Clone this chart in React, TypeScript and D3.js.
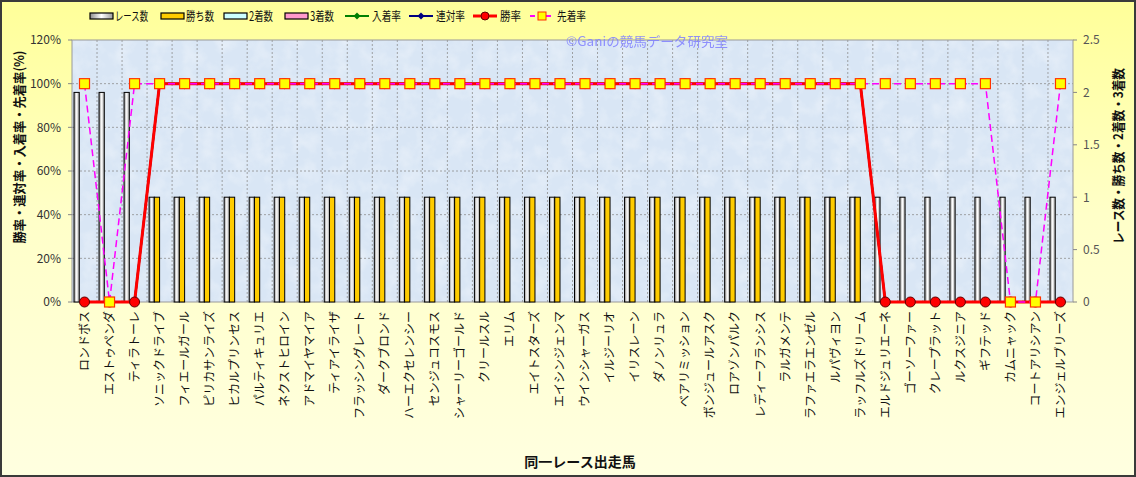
import React, {useEffect, useRef} from 'react';
import * as d3 from 'd3';

const horses = [
    'ロンドボス', 'エストゥペンダ', 'ティラトーレ', 'ソニックドライブ', 'フィエールガール',
    'ピリカサンライズ', 'ヒカルプリンセス', 'パルティキュリエ', 'ネクストヒロイン', 'アドマイヤマイア',
    'ティアイライザ', 'フラッシングレート', 'ダークブロンド', 'ハーエクセレンシー', 'センジュコスモス',
    'シャーリーゴールド', 'クリールスル', 'エリム', 'エイトスターズ', 'エイシンジェンマ',
    'ウインシャーガス', 'イルジーリオ', 'イリスレーン', 'ダノンリュラ', 'ベアリミッション',
    'ボンジュールアスク', 'ロアゾンパルク', 'レディーフランシス', 'ラルガメンテ', 'ラファエラエンゼル',
    'ルパヴィヨン', 'ラッフルズドリーム', 'エルドジュリエーネ', 'ゴーソーファー', 'クレープラット',
    'ルクスジニア', 'ギフテッド', 'カムニャック', 'コートアリシアン', 'エンジェルブリーズ',
];

// counts (right axis)
const raceCounts = [2, 2, 2, 1, 1, 1, 1, 1, 1, 1, 1, 1, 1, 1, 1, 1, 1, 1, 1, 1, 1, 1, 1, 1, 1, 1, 1, 1, 1, 1, 1, 1, 1, 1, 1, 1, 1, 1, 1, 1];
const winCounts = [0, 0, 0, 1, 1, 1, 1, 1, 1, 1, 1, 1, 1, 1, 1, 1, 1, 1, 1, 1, 1, 1, 1, 1, 1, 1, 1, 1, 1, 1, 1, 1, 0, 0, 0, 0, 0, 0, 0, 0];
const secondCounts = [0, 0, 0, 0, 0, 0, 0, 0, 0, 0, 0, 0, 0, 0, 0, 0, 0, 0, 0, 0, 0, 0, 0, 0, 0, 0, 0, 0, 0, 0, 0, 0, 0, 0, 0, 0, 0, 0, 0, 0];
const thirdCounts = [0, 0, 0, 0, 0, 0, 0, 0, 0, 0, 0, 0, 0, 0, 0, 0, 0, 0, 0, 0, 0, 0, 0, 0, 0, 0, 0, 0, 0, 0, 0, 0, 0, 0, 0, 0, 0, 0, 0, 0];

// rates in % (left axis)
const placeRate = [0, 0, 0, 100, 100, 100, 100, 100, 100, 100, 100, 100, 100, 100, 100, 100, 100, 100, 100, 100, 100, 100, 100, 100, 100, 100, 100, 100, 100, 100, 100, 100, 0, 0, 0, 0, 0, 0, 0, 0];
const rentaiRate = [0, 0, 0, 100, 100, 100, 100, 100, 100, 100, 100, 100, 100, 100, 100, 100, 100, 100, 100, 100, 100, 100, 100, 100, 100, 100, 100, 100, 100, 100, 100, 100, 0, 0, 0, 0, 0, 0, 0, 0];
const winRate = [0, 0, 0, 100, 100, 100, 100, 100, 100, 100, 100, 100, 100, 100, 100, 100, 100, 100, 100, 100, 100, 100, 100, 100, 100, 100, 100, 100, 100, 100, 100, 100, 0, 0, 0, 0, 0, 0, 0, 0];
const aheadRate = [100, 0, 100, 100, 100, 100, 100, 100, 100, 100, 100, 100, 100, 100, 100, 100, 100, 100, 100, 100, 100, 100, 100, 100, 100, 100, 100, 100, 100, 100, 100, 100, 100, 100, 100, 100, 100, 0, 0, 100];

const leftTicks = [0, 20, 40, 60, 80, 100, 120];
const rightTicks = [0, 0.5, 1, 1.5, 2, 2.5];

const FONT = '"Noto Sans CJK JP", "Noto Sans", sans-serif';
const W = 1136;
const H = 477;

const App: React.FC = () => {
    const svgRef = useRef<SVGSVGElement | null>(null);

    useEffect(() => {
        document.body.style.margin = '0';
        if (svgRef.current) draw();
    }, []);

    const draw = () => {
        const svg = d3.select(svgRef.current).attr('width', W).attr('height', H);
        svg.selectAll('*').remove();

        const plot = {left: 72, right: 1073, top: 40, bottom: 302};

        const defs = svg.append('defs');
        const bg = defs.append('linearGradient').attr('id', 'bgGrad')
            .attr('x1', '0').attr('y1', '0').attr('x2', '0').attr('y2', '1');
        bg.append('stop').attr('offset', '0%').attr('stop-color', '#FFFF99');
        bg.append('stop').attr('offset', '45%').attr('stop-color', '#FFFFC8');
        bg.append('stop').attr('offset', '100%').attr('stop-color', '#FFFFE0');

        const barGrad = defs.append('linearGradient').attr('id', 'raceGrad')
            .attr('x1', '0').attr('y1', '0').attr('x2', '1').attr('y2', '0');
        barGrad.append('stop').attr('offset', '0%').attr('stop-color', '#8c8c8c');
        barGrad.append('stop').attr('offset', '50%').attr('stop-color', '#ffffff');
        barGrad.append('stop').attr('offset', '100%').attr('stop-color', '#9a9a9a');

        // texture for plot area
        const tex = defs.append('filter').attr('id', 'tex').attr('x', 0).attr('y', 0).attr('width', 1).attr('height', 1);
        tex.append('feTurbulence').attr('type', 'fractalNoise').attr('baseFrequency', 0.06).attr('numOctaves', 3).attr('seed', 4);
        tex.append('feColorMatrix').attr('type', 'matrix')
            .attr('values', '0 0 0 0 1  0 0 0 0 1  0 0 0 0 1  0 0 0 1.1 -0.45');
        tex.append('feComposite').attr('in2', 'SourceGraphic').attr('operator', 'in');

        // background
        svg.append('rect').attr('x', 1).attr('y', 1).attr('width', W - 2).attr('height', H - 2)
            .attr('fill', 'url(#bgGrad)').attr('stroke', '#3a3a3a').attr('stroke-width', 2);

        svg.append('rect').attr('x', plot.left).attr('y', plot.top)
            .attr('width', plot.right - plot.left).attr('height', plot.bottom - plot.top)
            .attr('fill', '#D9E6F5');
        svg.append('rect').attr('x', plot.left).attr('y', plot.top)
            .attr('width', plot.right - plot.left).attr('height', plot.bottom - plot.top)
            .attr('fill', '#D9E6F5').attr('filter', 'url(#tex)').attr('opacity', 0.6);

        const x = d3.scaleBand<string>().domain(horses).range([plot.left, plot.right]).padding(0);
        const seriesKeys = ['race', 'win', 'second', 'third'];
        const x1 = d3.scaleBand<string>().domain(seriesKeys).range([2, x.bandwidth() - 2]).padding(0);
        const yL = d3.scaleLinear().domain([0, 120]).range([plot.bottom, plot.top]);
        const yR = d3.scaleLinear().domain([0, 2.5]).range([plot.bottom, plot.top]);

        // grid
        const grid = svg.append('g').attr('stroke', '#8e8e8e').attr('stroke-width', 0.8)
            .attr('stroke-dasharray', '2,2');
        leftTicks.slice(1, -1).forEach((t) => {
            grid.append('line').attr('x1', plot.left).attr('x2', plot.right)
                .attr('y1', yL(t)).attr('y2', yL(t));
        });
        horses.slice(1).forEach((h) => {
            const gx = x(h) as number;
            grid.append('line').attr('x1', gx).attr('x2', gx).attr('y1', plot.top).attr('y2', plot.bottom);
        });

        // plot frame
        svg.append('rect').attr('x', plot.left).attr('y', plot.top)
            .attr('width', plot.right - plot.left).attr('height', plot.bottom - plot.top)
            .attr('fill', 'none').attr('stroke', '#9a9a9a').attr('stroke-width', 1);

        // bars
        const barSeries = [
            {key: 'race', values: raceCounts, fill: 'url(#raceGrad)'},
            {key: 'win', values: winCounts, fill: '#FFCC00'},
            {key: 'second', values: secondCounts, fill: '#CCFFFF'},
            {key: 'third', values: thirdCounts, fill: '#FF99CC'},
        ];
        const barsG = svg.append('g');
        barSeries.forEach((s) => {
            barsG.selectAll(null)
                .data(horses.map((h, i) => ({h, v: s.values[i]})).filter((d) => d.v > 0))
                .enter().append('rect')
                .attr('x', (d) => (x(d.h) as number) + (x1(s.key) as number))
                .attr('y', (d) => yR(d.v))
                .attr('width', x1.bandwidth())
                .attr('height', (d) => yR(0) - yR(d.v))
                .attr('fill', s.fill)
                .attr('stroke', '#000')
                .attr('stroke-width', 1);
        });

        const cx = (h: string) => (x(h) as number) + x.bandwidth() / 2;
        const lineL = d3.line<{h: string; v: number}>().x((d) => cx(d.h)).y((d) => yL(d.v));
        const toPts = (vals: number[]) => horses.map((h, i) => ({h, v: vals[i]}));

        // 入着率
        svg.append('path').attr('d', lineL(toPts(placeRate)) as string)
            .attr('fill', 'none').attr('stroke', '#008000').attr('stroke-width', 2);
        // 連対率
        svg.append('path').attr('d', lineL(toPts(rentaiRate)) as string)
            .attr('fill', 'none').attr('stroke', '#000080').attr('stroke-width', 2);
        // 勝率
        svg.append('path').attr('d', lineL(toPts(winRate)) as string)
            .attr('fill', 'none').attr('stroke', '#FF0000').attr('stroke-width', 3);
        svg.append('g').selectAll('circle').data(toPts(winRate)).enter().append('circle')
            .attr('cx', (d) => cx(d.h)).attr('cy', (d) => yL(d.v)).attr('r', 5)
            .attr('fill', '#FF0000').attr('stroke', '#600000').attr('stroke-width', 1);
        // 先着率
        svg.append('path').attr('d', lineL(toPts(aheadRate)) as string)
            .attr('fill', 'none').attr('stroke', '#FF00FF').attr('stroke-width', 1.5)
            .attr('stroke-dasharray', '7,4');
        svg.append('g').selectAll('rect').data(toPts(aheadRate)).enter().append('rect')
            .attr('x', (d) => cx(d.h) - 5).attr('y', (d) => yL(d.v) - 5)
            .attr('width', 10).attr('height', 10)
            .attr('fill', '#FFFF00').attr('stroke', '#FF3300').attr('stroke-width', 1.2);

        // left axis
        const axL = svg.append('g').attr('font-family', FONT).attr('font-size', 12).attr('fill', '#333');
        leftTicks.forEach((t) => {
            axL.append('line').attr('x1', plot.left - 4).attr('x2', plot.left)
                .attr('y1', yL(t)).attr('y2', yL(t)).attr('stroke', '#888');
            axL.append('text').attr('x', plot.left - 11).attr('y', yL(t)).attr('dy', '0.36em')
                .attr('text-anchor', 'end').text(`${t}%`);
        });
        // right axis
        const axR = svg.append('g').attr('font-family', FONT).attr('font-size', 12).attr('fill', '#555');
        rightTicks.forEach((t) => {
            axR.append('line').attr('x1', plot.right).attr('x2', plot.right + 4)
                .attr('y1', yR(t)).attr('y2', yR(t)).attr('stroke', '#888');
            axR.append('text').attr('x', plot.right + 10).attr('y', yR(t)).attr('dy', '0.36em')
                .attr('text-anchor', 'start').text(String(t));
        });

        // axis titles
        svg.append('text').attr('transform', 'translate(24,147) rotate(-90)')
            .attr('text-anchor', 'middle').attr('font-family', FONT).attr('font-size', 13)
            .attr('font-weight', 'bold').attr('fill', '#111')
            .attr('textLength', 193).attr('lengthAdjust', 'spacingAndGlyphs')
            .text('勝率・連対率・入着率・先着率(%)');
        svg.append('text').attr('transform', 'translate(1123,156) rotate(-90)')
            .attr('text-anchor', 'middle').attr('font-family', FONT).attr('font-size', 13)
            .attr('font-weight', 'bold').attr('fill', '#111')
            .attr('textLength', 176).attr('lengthAdjust', 'spacingAndGlyphs')
            .text('レース数・勝ち数・2着数・3着数');
        svg.append('text').attr('x', 580).attr('y', 467)
            .attr('text-anchor', 'middle').attr('font-family', FONT).attr('font-size', 14)
            .attr('font-weight', 'bold').attr('fill', '#111').text('同一レース出走馬');

        // x labels
        svg.append('g').selectAll('text').data(horses).enter().append('text')
            .attr('transform', (h) => `translate(${cx(h)},311) rotate(-90)`)
            .attr('dy', '0.36em').attr('text-anchor', 'end')
            .attr('font-family', FONT).attr('font-size', 12).attr('fill', '#111')
            .text((h) => h);

        // watermark
        svg.append('text').attr('x', 566).attr('y', 46)
            .attr('font-family', FONT).attr('font-size', 13).attr('fill', '#8080FF')
            .attr('opacity', 0.85).attr('textLength', 162).attr('lengthAdjust', 'spacingAndGlyphs')
            .text('©Ganiの競馬データ研究室');

        // legend
        const lg = svg.append('g').attr('font-family', FONT).attr('font-size', 12.5).attr('fill', '#111');
        const rectItems = [
            {label: 'レース数', fill: 'url(#raceGrad)', x: 90, w: 33},
            {label: '勝ち数', fill: '#FFCC00', x: 161, w: 28},
            {label: '2着数', fill: '#CCFFFF', x: 224, w: 24},
            {label: '3着数', fill: '#FF99CC', x: 285, w: 24},
        ];
        rectItems.forEach((it) => {
            lg.append('rect').attr('x', it.x).attr('y', 13).attr('width', 23).attr('height', 6)
                .attr('fill', it.fill).attr('stroke', '#000').attr('stroke-width', 1.2);
            lg.append('text').attr('x', it.x + 25).attr('y', 16).attr('dy', '0.36em')
                .attr('textLength', it.w).attr('lengthAdjust', 'spacingAndGlyphs').text(it.label);
        });
        const lineItems = [
            {label: '入着率', color: '#008000', x: 345, marker: 'diamond', w: 29},
            {label: '連対率', color: '#000080', x: 409, marker: 'diamond', w: 29},
            {label: '勝率', color: '#FF0000', x: 473, marker: 'circle', w: 21},
            {label: '先着率', color: '#FF00FF', x: 530, marker: 'square', w: 29},
        ];
        lineItems.forEach((it) => {
            const mid = it.x + 12;
            lg.append('line').attr('x1', it.x).attr('x2', it.x + 24).attr('y1', 16).attr('y2', 16)
                .attr('stroke', it.color).attr('stroke-width', it.marker === 'circle' ? 3 : 2)
                .attr('stroke-dasharray', it.marker === 'square' ? '5,3' : null);
            if (it.marker === 'diamond') {
                lg.append('path').attr('d', `M${mid},12.5L${mid + 3.5},16L${mid},19.5L${mid - 3.5},16Z`)
                    .attr('fill', it.color);
            } else if (it.marker === 'circle') {
                lg.append('circle').attr('cx', mid).attr('cy', 16).attr('r', 4)
                    .attr('fill', '#FF0000').attr('stroke', '#600000');
            } else {
                lg.append('rect').attr('x', mid - 4).attr('y', 12).attr('width', 8).attr('height', 8)
                    .attr('fill', '#FFFF00').attr('stroke', '#FF3300');
            }
            lg.append('text').attr('x', it.x + 27).attr('y', 16).attr('dy', '0.36em')
                .attr('textLength', it.w).attr('lengthAdjust', 'spacingAndGlyphs').text(it.label);
        });
    };

    return <svg ref={svgRef} style={{display: 'block'}}></svg>;
};

export default App;
